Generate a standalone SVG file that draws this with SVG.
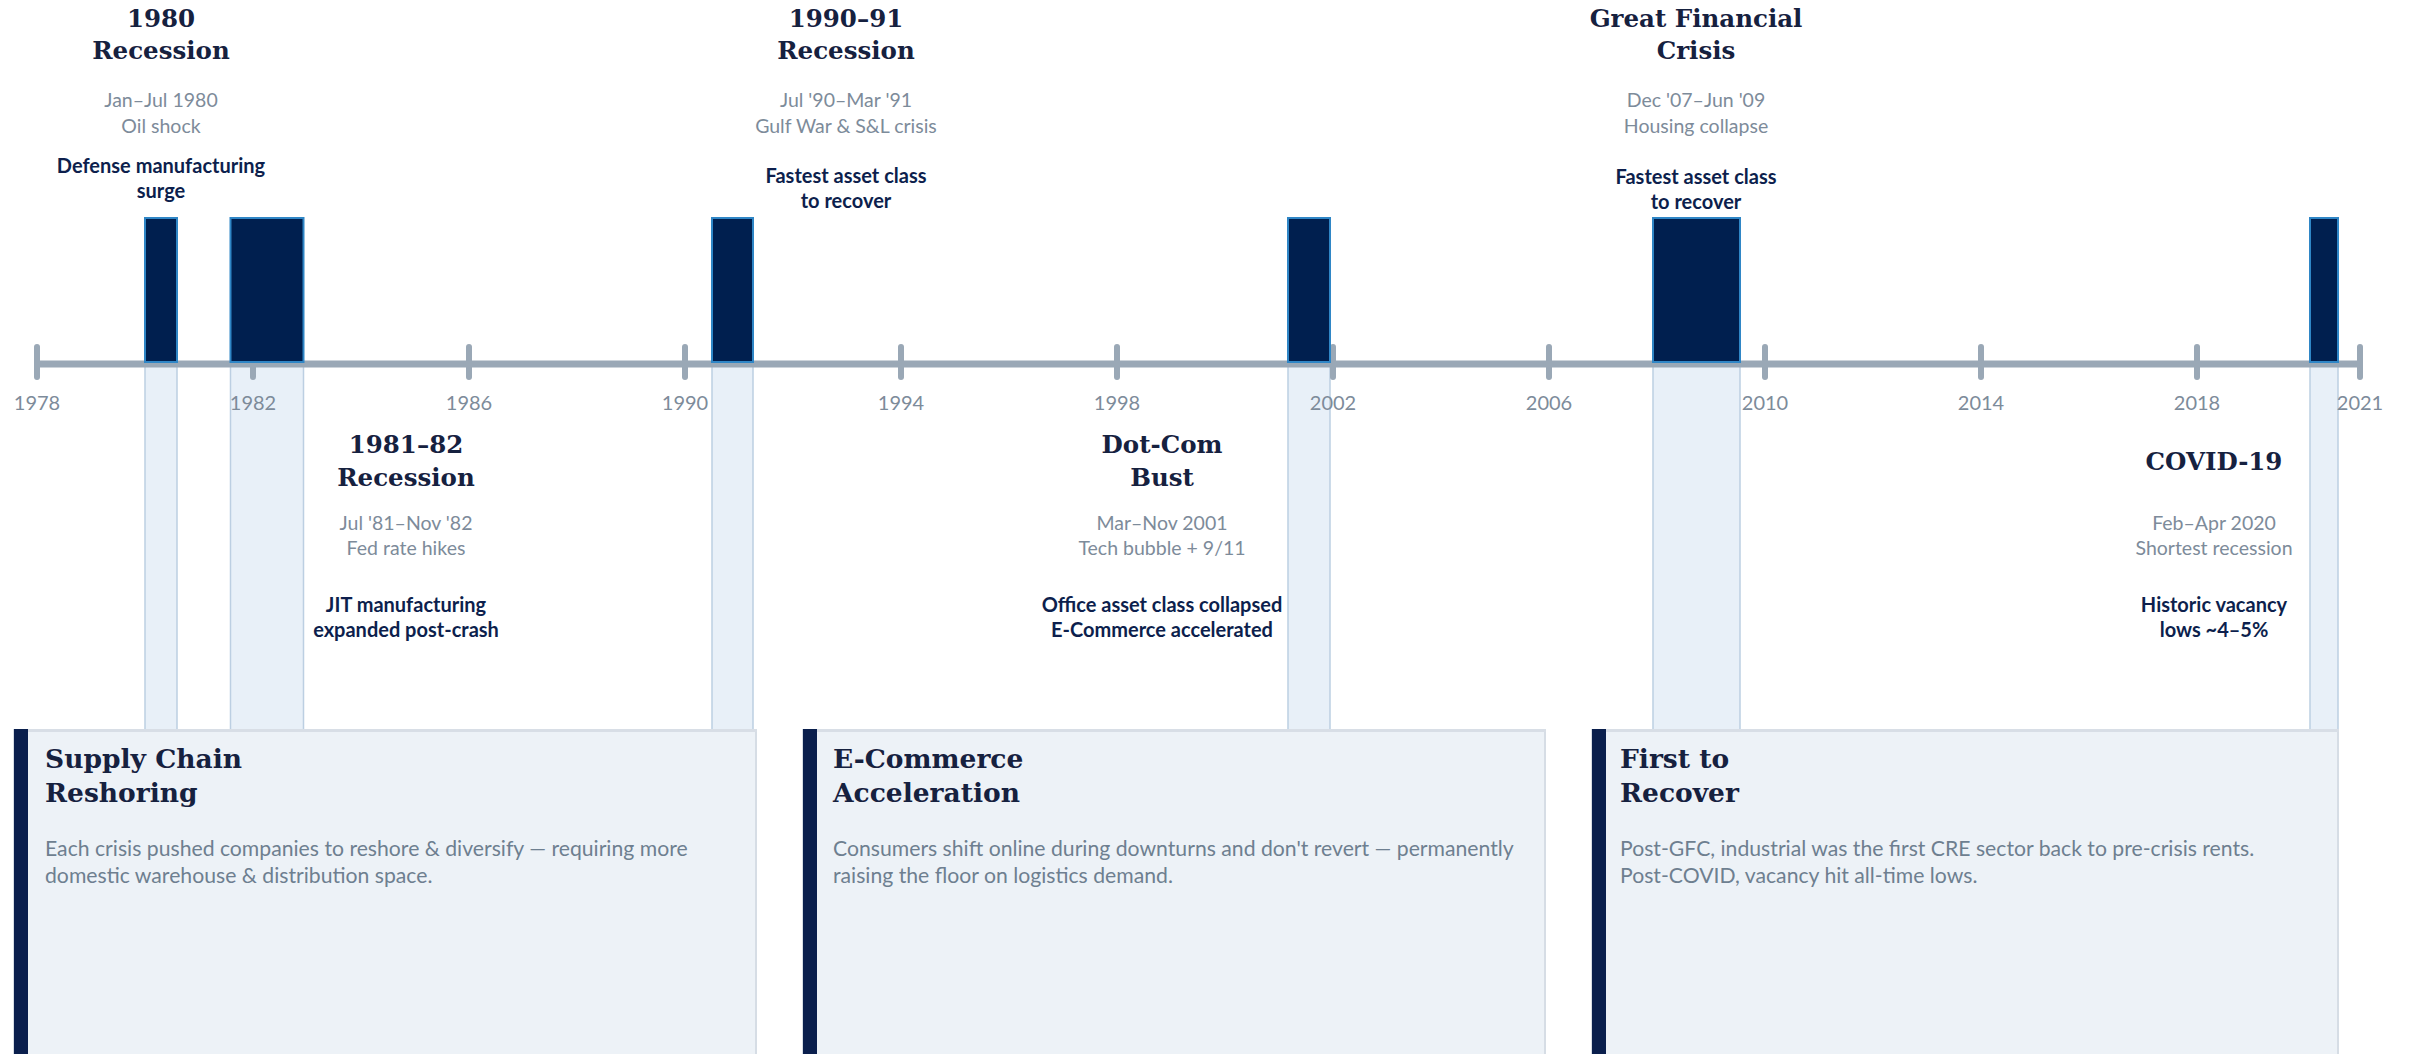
<svg xmlns="http://www.w3.org/2000/svg" width="2410" height="1054" viewBox="0 0 2410 1054">
<style>
.bg{fill:#ffffff}
.axis{stroke:#9aa8b6;stroke-width:7;fill:none}
.tick{stroke:#9aa8b6;stroke-width:6;stroke-linecap:round;fill:none}
.yr{font-family:Lato,"Open Sans",sans-serif;font-size:20px;fill:#7d8b9a;text-anchor:middle}
.bar{fill:#001f4f;stroke:#2f86c6;stroke-width:2}
.col{fill:#e8f0f8;stroke:#bccfe2;stroke-width:1.5}
.ttl{font-family:"DejaVu Serif",Georgia,serif;font-weight:bold;font-size:24.5px;fill:#16213f;text-anchor:middle}
.sub{font-family:Lato,"Open Sans",sans-serif;font-size:19.5px;fill:#7d8b9a;text-anchor:middle}
.ann{font-family:Lato,"Open Sans",sans-serif;font-weight:bold;font-size:20px;fill:#0d1f4d;text-anchor:middle}
.card{fill:#edf2f7;stroke:#d6dde5;stroke-width:2}
.ctop{fill:#d8dee6}
.stripe{fill:#0a1f4d}
.ctt{font-family:"DejaVu Serif",Georgia,serif;font-weight:bold;font-size:26.5px;fill:#16213f}
.body{font-family:Lato,"Open Sans",sans-serif;font-size:21.2px;fill:#6e7f90}
</style>
<rect class="bg" x="0" y="0" width="2410" height="1054"/>

<g id="recession-columns">
<rect class="col" x="145" y="366" width="32" height="364"/>
<rect class="col" x="230.5" y="366" width="73" height="364"/>
<rect class="col" x="712" y="366" width="41" height="364"/>
<rect class="col" x="1288" y="366" width="42" height="364"/>
<rect class="col" x="1653" y="366" width="87" height="364"/>
<rect class="col" x="2310" y="366" width="28" height="364"/>
</g>

<g id="axis">
<line class="axis" x1="37" y1="364" x2="2360" y2="364"/>
<g class="ticks">
<line class="tick" x1="37" y1="347" x2="37" y2="377"/>
<line class="tick" x1="253" y1="347" x2="253" y2="377"/>
<line class="tick" x1="469" y1="347" x2="469" y2="377"/>
<line class="tick" x1="685" y1="347" x2="685" y2="377"/>
<line class="tick" x1="901" y1="347" x2="901" y2="377"/>
<line class="tick" x1="1117" y1="347" x2="1117" y2="377"/>
<line class="tick" x1="1333" y1="347" x2="1333" y2="377"/>
<line class="tick" x1="1549" y1="347" x2="1549" y2="377"/>
<line class="tick" x1="1765" y1="347" x2="1765" y2="377"/>
<line class="tick" x1="1981" y1="347" x2="1981" y2="377"/>
<line class="tick" x1="2197" y1="347" x2="2197" y2="377"/>
<line class="tick" x1="2360" y1="347" x2="2360" y2="377"/>
</g>
<g class="labels">
<text class="yr" x="37" y="410">1978</text>
<text class="yr" x="253" y="410">1982</text>
<text class="yr" x="469" y="410">1986</text>
<text class="yr" x="685" y="410">1990</text>
<text class="yr" x="901" y="410">1994</text>
<text class="yr" x="1117" y="410">1998</text>
<text class="yr" x="1333" y="410">2002</text>
<text class="yr" x="1549" y="410">2006</text>
<text class="yr" x="1765" y="410">2010</text>
<text class="yr" x="1981" y="410">2014</text>
<text class="yr" x="2197" y="410">2018</text>
<text class="yr" x="2360" y="410">2021</text>
</g>
</g>

<g id="r1980">
<rect class="bar" x="145" y="218" width="32" height="144"/>
<text class="ttl" x="161" y="27">1980</text>
<text class="ttl" x="161" y="59">Recession</text>
<text class="sub" x="161" y="107">Jan–Jul 1980</text>
<text class="sub" x="161" y="133">Oil shock</text>
<text class="ann" x="161" y="173">Defense manufacturing</text>
<text class="ann" x="161" y="198">surge</text>
</g>

<g id="r1981">
<rect class="bar" x="230.5" y="218" width="73" height="144"/>
<text class="ttl" x="406" y="453">1981–82</text>
<text class="ttl" x="406" y="486">Recession</text>
<text class="sub" x="406" y="530">Jul '81–Nov '82</text>
<text class="sub" x="406" y="555">Fed rate hikes</text>
<text class="ann" x="406" y="612">JIT manufacturing</text>
<text class="ann" x="406" y="637">expanded post-crash</text>
</g>

<g id="r1990">
<rect class="bar" x="712" y="218" width="41" height="144"/>
<text class="ttl" x="846" y="27">1990–91</text>
<text class="ttl" x="846" y="59">Recession</text>
<text class="sub" x="846" y="107">Jul '90–Mar '91</text>
<text class="sub" x="846" y="133">Gulf War &amp; S&amp;L crisis</text>
<text class="ann" x="846" y="183">Fastest asset class</text>
<text class="ann" x="846" y="208">to recover</text>
</g>

<g id="r2001">
<rect class="bar" x="1288" y="218" width="42" height="144"/>
<text class="ttl" x="1162" y="453">Dot-Com</text>
<text class="ttl" x="1162" y="486">Bust</text>
<text class="sub" x="1162" y="530">Mar–Nov 2001</text>
<text class="sub" x="1162" y="555">Tech bubble + 9/11</text>
<text class="ann" x="1162" y="612">Office asset class collapsed</text>
<text class="ann" x="1162" y="637">E-Commerce accelerated</text>
</g>

<g id="r2008">
<rect class="bar" x="1653" y="218" width="87" height="144"/>
<text class="ttl" x="1696" y="27">Great Financial</text>
<text class="ttl" x="1696" y="59">Crisis</text>
<text class="sub" x="1696" y="107">Dec '07–Jun '09</text>
<text class="sub" x="1696" y="133">Housing collapse</text>
<text class="ann" x="1696" y="184">Fastest asset class</text>
<text class="ann" x="1696" y="209">to recover</text>
</g>

<g id="r2020">
<rect class="bar" x="2310" y="218" width="28" height="144"/>
<text class="ttl" x="2214" y="470">COVID-19</text>
<text class="sub" x="2214" y="530">Feb–Apr 2020</text>
<text class="sub" x="2214" y="555">Shortest recession</text>
<text class="ann" x="2214" y="612">Historic vacancy</text>
<text class="ann" x="2214" y="637">lows ~4–5%</text>
</g>

<g id="card-supply-chain">
<rect class="card" x="14" y="730" width="742" height="340"/>
<rect class="ctop" x="14" y="729" width="743" height="3"/>
<rect class="stripe" x="14" y="729" width="14" height="330"/>
<text class="ctt" x="45" y="768">Supply Chain</text>
<text class="ctt" x="45" y="802">Reshoring</text>
<text class="body" x="45" y="856">Each crisis pushed companies to reshore &amp; diversify — requiring more</text>
<text class="body" x="45" y="883">domestic warehouse &amp; distribution space.</text>
</g>

<g id="card-ecommerce">
<rect class="card" x="803" y="730" width="742" height="340"/>
<rect class="ctop" x="803" y="729" width="743" height="3"/>
<rect class="stripe" x="803" y="729" width="14" height="330"/>
<text class="ctt" x="833" y="768">E-Commerce</text>
<text class="ctt" x="833" y="802">Acceleration</text>
<text class="body" x="833" y="856">Consumers shift online during downturns and don't revert — permanently</text>
<text class="body" x="833" y="883">raising the floor on logistics demand.</text>
</g>

<g id="card-first-to-recover">
<rect class="card" x="1592" y="730" width="746" height="340"/>
<rect class="ctop" x="1592" y="729" width="747" height="3"/>
<rect class="stripe" x="1592" y="729" width="14" height="330"/>
<text class="ctt" x="1620" y="768">First to</text>
<text class="ctt" x="1620" y="802">Recover</text>
<text class="body" x="1620" y="856">Post-GFC, industrial was the first CRE sector back to pre-crisis rents.</text>
<text class="body" x="1620" y="883">Post-COVID, vacancy hit all-time lows.</text>
</g>
</svg>
